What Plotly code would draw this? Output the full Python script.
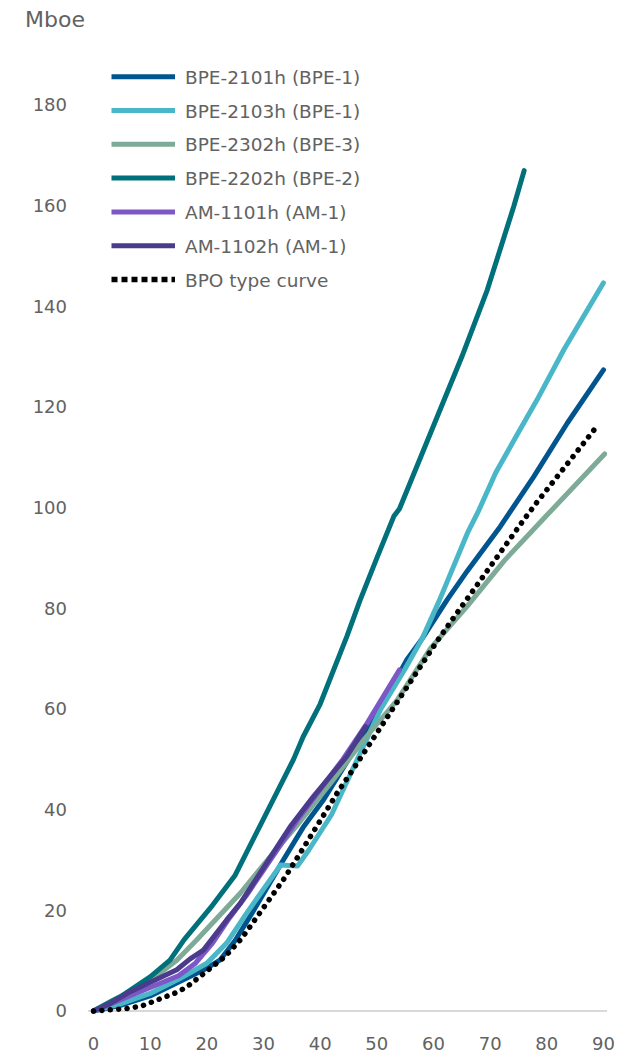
import plotly.graph_objects as go

# ---------------- data ----------------
x_2101 = [0, 5, 10, 15, 20, 22.3, 25, 28, 31, 33.5, 37, 40.6, 45, 50, 55.3, 58, 62.4, 66, 71.8, 77.7, 83.6, 90]
y_2101 = [0, 1.2, 3, 5.8, 8.5, 10.1, 14, 19.5, 25.5, 30, 36.5, 42, 50, 59, 69.8, 74, 81.7, 87.5, 96.3, 106.2, 116.8, 127.4]

x_2103 = [0, 5, 10, 15, 20, 23.5, 27, 30, 33, 36, 38, 42, 46, 50.6, 55, 58, 61, 64, 66, 68, 71, 75, 78.3, 83, 86, 90]
y_2103 = [0, 1.5, 3.5, 6.3, 9.5, 13.5, 19.4, 24, 29, 28.8, 32, 39, 48.5, 59.8, 68, 74, 81.5, 89.5, 95, 99.5, 107, 115, 121.5, 131.4, 137, 144.7]

x_2302 = [0, 3.5, 9.4, 14.7, 18.2, 23.5, 25.9, 31.2, 36, 42, 47.7, 53.6, 59.5, 66, 72.5, 80, 85, 90.2]
y_2302 = [0, 2.2, 5.5, 10.1, 14.1, 20.7, 23.4, 30.7, 37, 45.5, 53.9, 61.8, 72.1, 80.5, 89.5, 98.5, 104.5, 110.7]

x_2202 = [0, 5, 10, 13.5, 16, 21, 25, 30, 33, 35.3, 37, 40, 44.7, 47, 50, 53, 54, 57, 60, 62, 65, 69.5, 72, 74.2, 76]
y_2202 = [0, 3, 6.8, 10.1, 14.2, 21, 27, 38, 44.6, 50, 54.5, 61, 74.4, 81.5, 90, 98.3, 99.8, 108, 116, 122, 130, 143.3, 152, 160, 167]

x_1101 = [0, 4, 8, 12, 15, 18, 21, 24, 27, 30, 33, 36, 40, 44, 48.3, 51.2, 54]
y_1101 = [0, 1.8, 3.8, 5.5, 7, 9.5, 13.5, 18.5, 23, 28, 33, 38, 44, 50, 57.2, 62.5, 67.8]

x_1102 = [0, 3, 6.4, 10, 12.3, 14.7, 17, 19.4, 23.5, 25.9, 28, 31.8, 34.7, 38.8, 41.5, 44.7, 48]
y_1102 = [0, 1.5, 3.8, 5.6, 6.8, 8.2, 10.3, 12.1, 18.1, 21.4, 25, 31.4, 36.6, 42.6, 46.3, 50.6, 56.5]

x_bpo = [0, 3, 6, 8.5, 10.6, 12.6, 14.7, 16.5, 18.2, 20, 21.6, 23.2, 26.2, 28.7, 31.2, 33.7, 37.1, 40.5, 43,
         46.5, 50, 53.6, 58.3, 60.7, 63.2, 65.7, 68.2, 70.8, 73.3, 75.8, 78.4, 81.1, 83.8, 86.4, 89.2]
y_bpo = [0, 0.2, 0.5, 1, 1.9, 2.7, 3.7, 4.8, 6.3, 7.8, 9.3, 10.8, 14.5, 18.4, 22.4, 26.4, 32.5, 39, 43.3,
         49.2, 55.3, 61.5, 69.4, 73.6, 77.6, 81.6, 85.6, 89.5, 93.4, 97.4, 101.3, 105.2, 109.1, 112.9, 116.7]

names = ["BPE-2101h (BPE-1)", "BPE-2103h (BPE-1)", "BPE-2302h (BPE-3)", "BPE-2202h (BPE-2)",
         "AM-1101h (AM-1)", "AM-1102h (AM-1)", "BPO type curve"]
colors = ["#00558f", "#4ab7c9", "#7eab97", "#00707a", "#7e57c6", "#4a3b8c", "#000000"]
series_x = [x_2101, x_2103, x_2302, x_2202, x_1101, x_1102, x_bpo]
series_y = [y_2101, y_2103, y_2302, y_2202, y_1101, y_1102, y_bpo]

x_ticks = [0, 10, 20, 30, 40, 50, 60, 70, 80, 90]
y_ticks = [0, 20, 40, 60, 80, 100, 120, 140, 160, 180]
y_unit = "Mboe"

# ---------------- figure ----------------
W, H = 632, 1055
ML, MR, MT, MB = 88, 25, 80, 39
PW, PH = W - ML - MR, H - MT - MB

FONT = "DejaVu Sans"
GREY = "#626262"

fig = go.Figure()
for i, (nm, c, xs, ys) in enumerate(zip(names, colors, series_x, series_y)):
    dotted = i == len(names) - 1
    fig.add_trace(go.Scatter(
        x=xs, y=ys, mode="lines", name=nm, showlegend=False,
        line=dict(color=c, width=5.5 if dotted else 5,
                  dash="4px,4.3px" if dotted else "solid"),
        hoverinfo="skip",
    ))

# page-pixel -> paper helpers (for the custom legend / unit label)
def px2paper_x(px):
    return (px - ML) / PW

def px2paper_y(py):
    return (H - MB - py) / PH

leg_y0, leg_dy = 76.7, 33.8
shapes, annotations = [], []
for i, (nm, c) in enumerate(zip(names, colors)):
    py = leg_y0 + i * leg_dy
    dotted = i == len(names) - 1
    shapes.append(dict(
        type="line", xref="paper", yref="paper",
        x0=px2paper_x(111.5), x1=px2paper_x(175), y0=px2paper_y(py), y1=px2paper_y(py),
        line=dict(color=c, width=5.5 if dotted else 5, dash="6px,4px" if dotted else "solid"),
    ))
    annotations.append(dict(
        text=nm, xref="paper", yref="paper", x=px2paper_x(183), y=px2paper_y(py + 0.5),
        xanchor="left", yanchor="middle", showarrow=False,
        font=dict(family=FONT, size=18.5, color=GREY),
    ))

annotations.append(dict(
    text=y_unit, xref="paper", yref="paper", x=px2paper_x(23), y=px2paper_y(19),
    xanchor="left", yanchor="middle", showarrow=False,
    font=dict(family=FONT, size=22, color=GREY),
))

fig.update_layout(
    template="none",
    width=W, height=H,
    margin=dict(l=ML, r=MR, t=MT, b=MB, pad=0, autoexpand=False),
    paper_bgcolor="white", plot_bgcolor="white",
    shapes=shapes, annotations=annotations,
    xaxis=dict(
        range=[-0.97, 90.62], tickvals=x_ticks, ticktext=[str(v) for v in x_ticks],
        showgrid=False, zeroline=False, showline=False, ticks="", automargin=False,
        tickfont=dict(family=FONT, size=18, color=GREY), ticklabelstandoff=15,
        fixedrange=True,
    ),
    yaxis=dict(
        range=[-0.99, 185.0], tickvals=y_ticks, ticktext=[str(v) for v in y_ticks],
        showgrid=False, zeroline=True, zerolinecolor="#d9d9d9", zerolinewidth=2,
        showline=False, ticks="", automargin=False,
        tickfont=dict(family=FONT, size=18, color=GREY), ticklabelstandoff=20,
        fixedrange=True,
    ),
    showlegend=False,
)

# page without default body margin; round line caps / round dots like the reference
post = """
document.body.style.margin = '0';
document.body.style.overflow = 'hidden';
var gd = document.getElementById('{plot_id}');
function fixLines(){
  var traces = gd.querySelectorAll('.scatterlayer .trace');
  traces.forEach(function(t, i){
    t.querySelectorAll('path.js-line').forEach(function(p){
      p.style.strokeLinecap = 'round';
      p.style.strokeLinejoin = 'round';
      if (i === traces.length - 1) { p.style.strokeDasharray = '0.1px, 8.3px'; }
    });
  });
}
fixLines();
gd.on('plotly_afterplot', fixLines);
"""

fig.write_html("out.html", post_script=post, config={"displayModeBar": False, "staticPlot": False})
